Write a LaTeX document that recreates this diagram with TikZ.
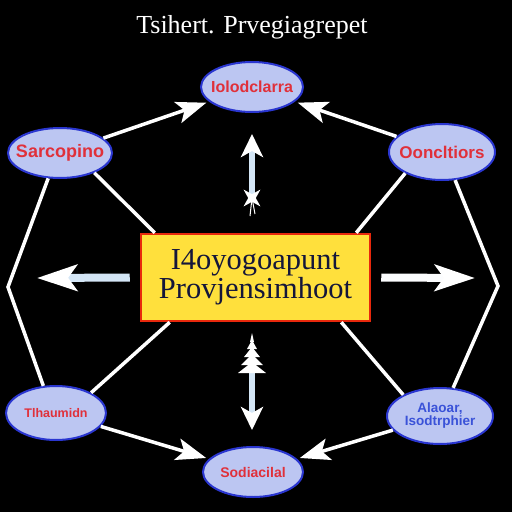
\documentclass[tikz,border=0pt]{standalone}
\usepackage{fontspec}
\setmainfont{Liberation Serif}
\setsansfont{Liberation Sans}
\usetikzlibrary{arrows.meta,shapes.geometric}
\definecolor{ellfill}{HTML}{BCC6F2}
\definecolor{ellblue}{HTML}{2A36D0}
\definecolor{txtred}{HTML}{E0303A}
\definecolor{txtblue}{HTML}{3A52D8}
\definecolor{boxfill}{HTML}{FFE03C}
\definecolor{boxred}{HTML}{E8280C}
\definecolor{navy}{HTML}{14163A}
\definecolor{shaft}{HTML}{D4E6F6}
\newcommand{\zw}[1]{\makebox[0pt]{#1}}
\begin{document}
\begin{tikzpicture}[x=1pt,y=-1pt,
  bubble/.style={ellipse, draw=ellblue, line width=2pt, fill=ellfill, inner sep=0pt,
    minimum width=102pt, minimum height=50pt,
    font=\sffamily\bfseries\fontsize{16}{17}\selectfont, text=txtred},
  mainbox/.style={rectangle, draw=boxred, line width=2.5pt, fill=boxfill,
    minimum width=229pt, minimum height=87pt, inner sep=0pt, align=center,
    font=\fontsize{30.5}{32}\selectfont, text=navy},
  conn/.style={draw=white, line width=3.5pt},
  arr/.style={conn, shorten >=3pt, -{Stealth[length=30pt,width=22pt,inset=7pt]}},
  bigarr/.style={draw=shaft, line width=8pt, -{Stealth[length=40pt,width=26pt,inset=9pt,color=white]}},
  varr/.style={draw=shaft, line width=6pt, -{Stealth[length=23pt,width=22pt,inset=6pt,color=white]}}
]
\fill[black] (0,0) rectangle (512,512);
\useasboundingbox (0,0) rectangle (512,512);

\node[font=\fontsize{26}{28}\selectfont, text=white] (title) at (252,27) {Tsihert. Prvegiagrepet};

\node[mainbox] (box) at (255.5,277.5) {I4oyogoapunt\\[-3pt]Provjensimhoot};

\node[bubble] (top) at (252,87) {\zw{Iolodclarra}};
\node[bubble, minimum width=104pt, font=\sffamily\bfseries\fontsize{18}{19}\selectfont] (left) at (60,153) {\zw{Sarcopino}};
\node[bubble, minimum width=106pt, minimum height=56pt, font=\sffamily\bfseries\fontsize{17}{18}\selectfont] (right) at (442,152) {\zw{Ooncltiors}};
\node[bubble, minimum width=100pt, minimum height=54pt, font=\sffamily\bfseries\fontsize{12.5}{13}\selectfont] (bl) at (56,413) {\zw{Tlhaumidn}};
\node[bubble, minimum width=106pt, minimum height=56pt, text=txtblue,
  font=\sffamily\bfseries\fontsize{13.5}{14.5}\selectfont] (br) at (440,416) {\zw{\begin{tabular}{@{}c@{}}Alaoar,\\[-2pt]Isodtrphier\end{tabular}}};
\node[bubble, minimum width=100pt, font=\sffamily\bfseries\fontsize{14}{15}\selectfont] (bot) at (253,472) {\zw{Sodiacilal}};

\coordinate (lk) at (8,287);
\coordinate (rk) at (498,286);
\coordinate (la) at (37,278);
\coordinate (ra) at (475,278);
\coordinate (vu1) at (252,200);
\coordinate (vu2) at (252,134);
\coordinate (vd1) at (252,372);
\coordinate (vd2) at (252,430);

% connectors
\draw[arr] (left) -- (top);
\draw[arr] (right) -- (top);
\draw[arr] (bl) -- (bot);
\draw[arr] (br) -- (bot);
\draw[conn] (left.-30) -- ([xshift=15pt]box.north west);
\draw[conn] (right.-150) -- ([xshift=-15pt]box.north east);
\draw[conn] ([xshift=30pt]box.south west) -- (bl.30);
\draw[conn] ([xshift=-30pt]box.south east) -- (br.150);
\draw[conn, line join=miter] (left.-115) -- (lk) -- (bl.115);
\draw[conn, line join=miter] (right.-65) -- (rk) -- (br.65);

\draw[bigarr] ([xshift=-10pt]box.west) -- (la);
\draw[bigarr, draw=white!92!shaft] ([xshift=10pt]box.east) -- (ra);
\draw[varr] (vu1) -- (vu2);
\draw[varr] (vd1) -- (vd2);

% sparkles
\node[star, star points=4, star point ratio=3.2, fill=white, inner sep=0pt, minimum size=24pt, rotate=45] (sp1) at (252,198) {};
\draw[white, line width=1pt] (sp1.center) -- (250,216);
\draw[white, line width=1pt] (sp1.center) -- (255,214);
\fill[white] (238,373) -- (252,362) -- (266,373) -- cycle;
\fill[white] (241,365) -- (252,354) -- (263,365) -- cycle;
\fill[white] (244,357) -- (252,347) -- (260,357) -- cycle;
\fill[white] (247,349) -- (252,340) -- (257,349) -- cycle;
\fill[white] (250,342) -- (252,333) -- (254,342) -- cycle;
\end{tikzpicture}
\end{document}
